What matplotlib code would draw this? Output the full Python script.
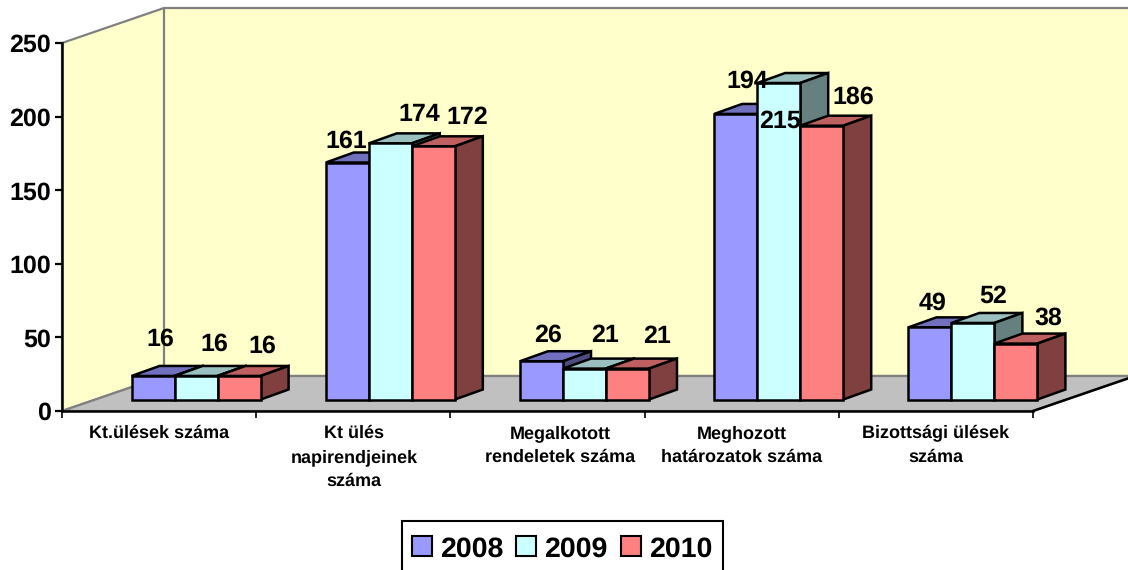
import numpy as np
import matplotlib
matplotlib.use("Agg")
import matplotlib.pyplot as plt
from matplotlib.patches import Polygon, Patch, Rectangle

plt.rcParams['font.family'] = ['Liberation Sans', 'DejaVu Sans']
plt.rcParams['font.weight'] = 'bold'
plt.rcParams['text.hinting'] = 'no_hinting'

categories = ['Kt.ülések száma', 'Kt ülés\nnapirendjeinek\nszáma', 'Megalkotott\nrendeletek száma',
              'Meghozott\nhatározatok száma', 'Bizottsági ülések\nszáma']
years = ['2008', '2009', '2010']
v2008 = [16, 161, 26, 194, 49]
v2009 = [16, 174, 21, 215, 52]
v2010 = [16, 172, 21, 186, 38]
y_ticks = [0, 50, 100, 150, 200, 250]

front_cols = ['#9999FF', '#CCFFFF', '#FF8080']
top_cols = ['#7070BF', '#99BFBF', '#BF6060']
side_cols = ['#4C4C80', '#668080', '#804040']

# label nudges in pixels from the top middle of the front of each bar
nudges = [[(7, 39), (18, 34), (23, 32)],
          [(-1, 23), (29, 31), (34, 31)],
          [(7, 28), (21, 35), (30, 34)],
          [(12, 35), (1, -36), (32, 30)],
          [(3, 26), (20, 29), (32, 27)]]
cat_nudge = [0, 1, 13, 0, 0]

W, H = 1128, 570
fig = plt.figure(figsize=(W / 100, H / 100), dpi=100)
ax = fig.add_axes([62 / W, (H - 411) / H, 971 / W, 368 / H])
ax.set_xlim(-0.5, 4.5)
ax.set_ylim(0, 250)
ax.patch.set_visible(False)

ux = 971 / 5    # pixels per category
uy = 368 / 250  # pixels per value


def px(dx, dy):
    return dx / ux, dy / uy


def poly(points, fc, ec, lw, z):
    ax.add_patch(Polygon(points, closed=True, facecolor=fc, edgecolor=ec, linewidth=lw,
                         zorder=z, clip_on=False, joinstyle='miter'))


# walls and floor
wx, wy = px(102, 35)
x0, x1 = -0.5, 4.5
far = x1 + 1
poly([(x0, 0), (x0, 250), (x0 + wx, 250 + wy), (far, 250 + wy), (far, wy), (x0 + wx, wy)],
     '#FFFFCC', '#808080', 1.6, 1)
ax.plot([x0 + wx, x0 + wx], [wy, 250 + wy], color='#808080', lw=1.6, zorder=1.5, clip_on=False)
poly([(x0, 0), (x1, 0), (x1 + wx, wy), (x0 + wx, wy)], '#C0C0C0', '#808080', 1.6, 2)
ax.plot([x1, x1 + wx], [0, wy], color='black', lw=1.8, zorder=3, clip_on=False)

# bars
bw, _ = px(43, 0)
shift_x, base = px(37, 11.5)
dx, dy = px(28, 10)
series = [v2008, v2009, v2010]
z = 5
for g in range(len(categories)):
    for s in range(3):
        v = series[s][g]
        left = g + shift_x + (s - 1.5) * bw
        right = left + bw
        top = base + v
        ax.bar(left, v, bw, bottom=base, align='edge', color=front_cols[s], edgecolor='black',
               linewidth=1.8, zorder=z + 1, clip_on=False)
        poly([(left, top), (right, top), (right + dx, top + dy), (left + dx, top + dy)],
             top_cols[s], 'black', 1.8, z)
        poly([(right, base), (right, top), (right + dx, top + dy), (right + dx, base + dy)],
             side_cols[s], 'black', 1.8, z)
        z += 2
        nx, ny = nudges[g][s]
        ax.annotate(str(v), xy=(left + bw / 2, top), xytext=(nx, ny - 2), textcoords='offset pixels',
                    ha='center', va='center', fontsize=18, fontweight='bold', zorder=100,
                    annotation_clip=False)

for sp in ['top', 'right']:
    ax.spines[sp].set_visible(False)
for sp in ['left', 'bottom']:
    ax.spines[sp].set_linewidth(1.8)
    ax.spines[sp].set_zorder(4)

ax.set_yticks(y_ticks)
ax.set_xticks(np.arange(-0.5, 5))
ax.set_xticklabels([])
ax.tick_params(axis='y', length=5, width=1.6, labelsize=18, pad=3)
ax.tick_params(axis='x', length=5, width=1.2)

for i, name in enumerate(categories):
    ax.annotate(name, xy=(i, 0), xytext=(cat_nudge[i], -14), textcoords='offset pixels',
                ha='center', va='top', fontsize=13, fontweight='bold', linespacing=1.55,
                annotation_clip=False)

fig.add_artist(Rectangle((402 / W, -10 / H), 321 / W, (H - 521 + 10) / H, transform=fig.transFigure,
                         facecolor='white', edgecolor='black', linewidth=1.5))
handles = [Patch(facecolor=front_cols[i], edgecolor='black', linewidth=1.5, label=years[i]) for i in range(3)]
leg = fig.legend(handles=handles, loc='upper left', bbox_to_anchor=(412 / W, (H - 536) / H), ncol=3,
                 fontsize=20.5, frameon=False,
                 handlelength=0.7, handleheight=0.7, handletextpad=0.28, columnspacing=0.46,
                 borderpad=0, borderaxespad=0)
leg.set_zorder(10)

fig.savefig('out.png', dpi=100)
